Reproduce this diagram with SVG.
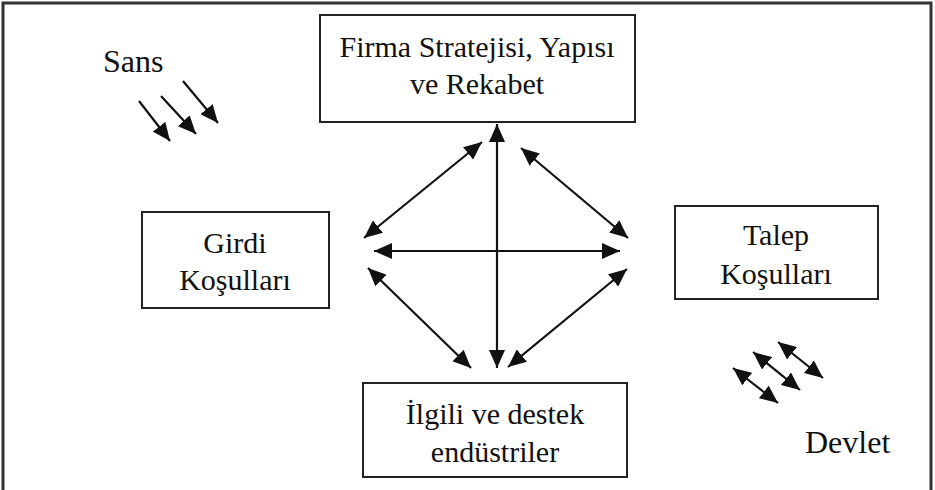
<svg xmlns="http://www.w3.org/2000/svg" width="935" height="490" viewBox="0 0 935 490">
<style>
.box{fill:#fff;stroke:#222;stroke-width:2}
.t{font-family:"Liberation Serif","Times New Roman",serif;font-size:30px;fill:#111;text-anchor:middle}
.lbl{font-family:"Liberation Serif","Times New Roman",serif;font-size:32px;fill:#111}
.c{stroke:#111;stroke-width:2.2;fill:none}
</style>
<defs>
<marker id="ah" viewBox="0 0 18 16" refX="18" refY="8" markerWidth="18" markerHeight="16" markerUnits="userSpaceOnUse" orient="auto-start-reverse">
<path d="M0,0 L18,8 L0,16 z" fill="#111"/>
</marker>
</defs>
<rect width="935" height="490" fill="#fff"/>
<path d="M3,490 V3 H931 V490" fill="none" stroke="#333" stroke-width="3"/>
<g id="firma">
<rect class="box" x="320" y="15" width="315" height="107"/>
<text class="t" x="477" y="57">Firma Stratejisi, Yapısı</text>
<text class="t" x="477" y="94">ve Rekabet</text>
</g>
<g id="girdi">
<rect class="box" x="142" y="212" width="187" height="96"/>
<text class="t" x="235" y="253">Girdi</text>
<text class="t" x="235" y="290">Koşulları</text>
</g>
<g id="talep">
<rect class="box" x="675" y="206" width="203" height="93"/>
<text class="t" x="776" y="245">Talep</text>
<text class="t" x="776" y="284">Koşulları</text>
</g>
<g id="ilgili">
<rect class="box" x="363" y="383" width="264" height="94"/>
<text class="t" x="495" y="424">İlgili ve destek</text>
<text class="t" x="495" y="462">endüstriler</text>
</g>
<g id="sans">
<text class="lbl" x="103" y="72">Sans</text>
</g>
<g id="devlet">
<text class="lbl" x="805" y="453">Devlet</text>
</g>
<g id="connectors">
<line class="c" x1="497" y1="368" x2="497" y2="124" marker-start="url(#ah)" marker-end="url(#ah)"/>
<line class="c" x1="374" y1="251" x2="620" y2="251" marker-start="url(#ah)" marker-end="url(#ah)"/>
<line class="c" x1="364" y1="238" x2="482" y2="142" marker-start="url(#ah)" marker-end="url(#ah)"/>
<line class="c" x1="521" y1="148" x2="628" y2="238" marker-start="url(#ah)" marker-end="url(#ah)"/>
<line class="c" x1="368" y1="268" x2="471" y2="368" marker-start="url(#ah)" marker-end="url(#ah)"/>
<line class="c" x1="627" y1="269" x2="508" y2="367" marker-start="url(#ah)" marker-end="url(#ah)"/>
<line class="c" x1="139" y1="101" x2="170" y2="141" marker-end="url(#ah)"/>
<line class="c" x1="161" y1="96" x2="196" y2="134" marker-end="url(#ah)"/>
<line class="c" x1="183" y1="81" x2="218" y2="123" marker-end="url(#ah)"/>
<line class="c" x1="733" y1="368" x2="778" y2="403" marker-start="url(#ah)" marker-end="url(#ah)"/>
<line class="c" x1="753" y1="352" x2="800" y2="390" marker-start="url(#ah)" marker-end="url(#ah)"/>
<line class="c" x1="778" y1="342" x2="823" y2="378" marker-start="url(#ah)" marker-end="url(#ah)"/>
</g>
</svg>
